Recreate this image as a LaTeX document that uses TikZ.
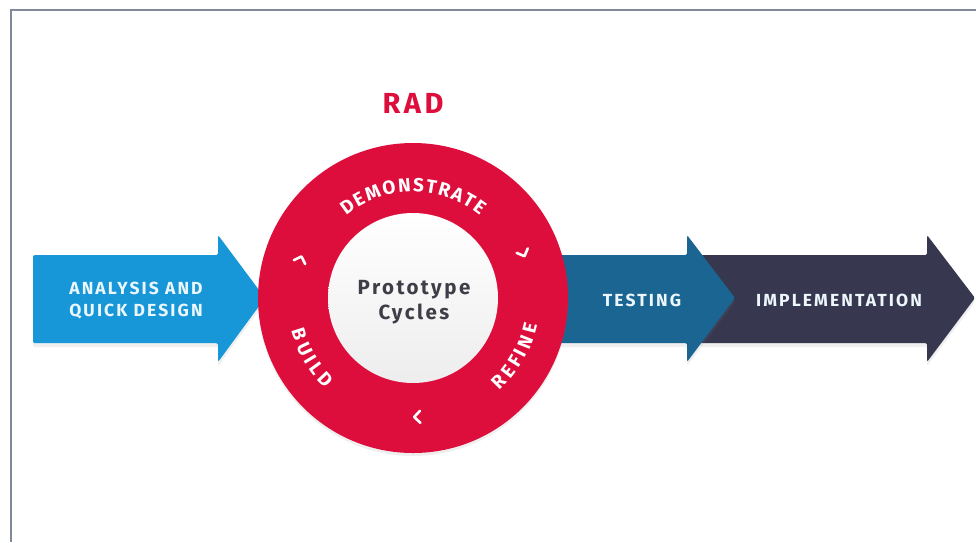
\documentclass[tikz,border=0pt]{standalone}
\usepackage{fontspec}
\setmainfont{Fira Sans}
\newfontfamily\spacedfont[LetterSpace=12]{Fira Sans}
\usetikzlibrary{shadows,decorations.text,calc}
\definecolor{radred}{RGB}{222,14,60}
\definecolor{quickblue}{RGB}{23,151,216}
\definecolor{testblue}{RGB}{27,101,146}
\definecolor{impldark}{RGB}{55,55,80}
\definecolor{protogray}{RGB}{62,62,72}
\definecolor{framegray}{RGB}{128,138,155}
\tikzstyle{arrowshape} = [rounded corners=1.5pt, drop shadow={opacity=0.12, shadow xshift=0pt, shadow yshift=-4pt}]
\tikzstyle{arrowtext} = [text=white!92!quickblue, font=\spacedfont\bfseries\fontsize{17.5}{22}\selectfont, align=center]
\tikzstyle{ringtext} = [decorate, decoration={text effects along path, text effects/.cd, text along path, fit text to path, characters={text=white, font=\bfseries\fontsize{19}{19}\selectfont}}]
\tikzstyle{chevron} = [white, line width=2.6pt, line cap=round, line join=round]

\begin{document}
\begin{tikzpicture}[x=1pt,y=1pt]
                \useasboundingbox (0,0) rectangle (976,-542);
                \fill[white] (0,0) rectangle (976,-542);
                \draw[framegray, line width=2pt] (11,-542) -- (11,-10) -- (976,-10);
                \coordinate (cyc) at (413,-298);

                \fill[impldark, arrowshape] (700,-255) -- (927,-255) -- (927,-235) -- (975,-298) -- (927,-362) -- (927,-343) -- (700,-343) -- cycle;
                \fill[testblue, arrowshape] (540,-255) -- (687,-255) -- (687,-235) -- (735,-298) -- (687,-362) -- (687,-343) -- (540,-343) -- cycle;
                \fill[quickblue, arrowshape] (33,-255) -- (218,-255) -- (218,-235) -- (265,-298) -- (218,-362) -- (218,-343) -- (33,-343) -- cycle;

                \fill[radred, drop shadow={opacity=0.12, shadow xshift=0pt, shadow yshift=-3pt}] (cyc) circle (155);
                \shade[top color=white, bottom color=gray!14] (cyc) circle (85);

                \node[arrowtext] (analysis) at (136,-301) {ANALYSIS AND\\QUICK DESIGN};
                \node[arrowtext] (testing) at (642,-300) {TESTING};
                \node[arrowtext] (impl) at (839,-300) {IMPLEMENTATION};
                \node[radred, font=\spacedfont\bfseries\fontsize{29}{30}\selectfont] (rad) at (413,-103) {RAD};
                \node[protogray, align=center, font=\spacedfont\bfseries\fontsize{20.5}{25}\selectfont] (proto) at (414,-302) {Prototype\\Cycles};

                \path[ringtext, decoration={text={DEMONSTRATE}}] ([shift={(cyc)}]129:106) arc[start angle=129, end angle=51, radius=106];
                \path[ringtext, decoration={text={REFINE}}] ([shift={(cyc)}]-47:127) arc[start angle=-47, end angle=-12, radius=127];
                \path[ringtext, decoration={text={BUILD}}] ([shift={(cyc)}]195:126) arc[start angle=195, end angle=226, radius=126];

                \foreach \ang in {161,22,-88}
                    \draw[chevron, shift={(cyc)}, rotate=\ang] (113,3) -- (119,-3) -- (125,3);
            \end{tikzpicture}
\end{document}
